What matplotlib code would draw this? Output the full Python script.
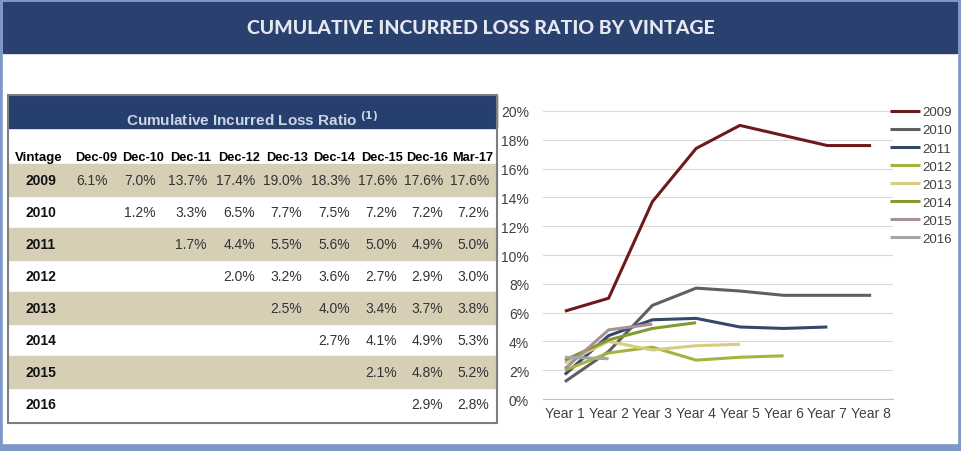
import matplotlib.pyplot as plt
from matplotlib.patches import Rectangle

W, H = 961, 452
fig = plt.figure(figsize=(W / 100, H / 100), dpi=100)
plt.rcParams['font.family'] = ['Liberation Sans', 'DejaVu Sans']

# data
vintages = ['2009', '2010', '2011', '2012', '2013', '2014', '2015', '2016']
periods = ['Dec-09', 'Dec-10', 'Dec-11', 'Dec-12', 'Dec-13', 'Dec-14', 'Dec-15', 'Dec-16', 'Mar-17']
ratios = [
    [6.1, 7.0, 13.7, 17.4, 19.0, 18.3, 17.6, 17.6, 17.6],
    [1.2, 3.3, 6.5, 7.7, 7.5, 7.2, 7.2, 7.2],
    [1.7, 4.4, 5.5, 5.6, 5.0, 4.9, 5.0],
    [2.0, 3.2, 3.6, 2.7, 2.9, 3.0],
    [2.5, 4.0, 3.4, 3.7, 3.8],
    [2.7, 4.1, 4.9, 5.3],
    [2.1, 4.8, 5.2],
    [2.9, 2.8],
]
years = ['Year 1', 'Year 2', 'Year 3', 'Year 4', 'Year 5', 'Year 6', 'Year 7', 'Year 8']
colors = ['#6e1a1a', '#5f5f5f', '#34496a', '#a4b43c', '#d6cc82', '#839b2c', '#a89096', '#a6a6a6']

# background / frame in pixel coords
bg = fig.add_axes([0, 0, 1, 1])
bg.set_xlim(0, W)
bg.set_ylim(H, 0)
bg.axis('off')
frame = '#7b98c8'
bg.add_patch(Rectangle((0, 0), W, H, color=frame))
bg.add_patch(Rectangle((3, 3), W - 7, H - 11, color='white'))
bg.add_patch(Rectangle((3, 3), W - 7, 51, color='#2a4170'))
bg.text(W / 2, 29, 'CUMULATIVE INCURRED LOSS RATIO BY VINTAGE', color='#e6e8f0',
        fontsize=14, fontweight='black', family='Lato', ha='center', va='center')

# table
tx0, tx1, ty0 = 8, 497, 96
bg.add_patch(Rectangle((tx0, ty0), tx1 - tx0, 33, color='#263f6c'))
bg.text(252, 120, 'Cumulative Incurred Loss Ratio $^{\\mathbf{(1)}}$', color='#cdd6e8',
        fontsize=11, fontweight='bold', ha='center', va='center')
col_c = [96, 143, 191, 239, 287, 334, 382, 427, 473]
col_r = [108, 156, 207, 255, 302, 350, 397, 443, 489]
bg.text(39, 158, 'Vintage', fontsize=9.5, fontweight='bold', ha='center', va='center')
for c, p in zip(col_c, periods):
    bg.text(c, 158, p, fontsize=9.2, fontweight='bold', ha='center', va='center')
row_h = 32
for i, (v, vals) in enumerate(zip(vintages, ratios)):
    top = 165 + i * row_h
    if i % 2 == 0:
        bg.add_patch(Rectangle((tx0, top), tx1 - tx0, row_h, color='#d6cfb6'))
    yc = top + row_h / 2
    bg.text(25, yc, v, fontsize=10, fontweight='bold', ha='left', va='center', color='#111111')
    start = len(periods) - len(vals)
    for j, val in enumerate(vals):
        bg.text(col_r[start + j], yc, f'{val:.1f}%', fontsize=10, ha='right',
                va='center', color='#333333')
bottom = 165 + len(vintages) * row_h + 3
bg.add_patch(Rectangle((tx0, ty0), tx1 - tx0, bottom - ty0, fill=False,
                       edgecolor='#7f7f7f', lw=1.5))

# chart
ax_l, ax_r, ax_t, ax_b = 543, 893, 112, 400
ax = fig.add_axes([ax_l / W, 1 - ax_b / H, (ax_r - ax_l) / W, (ax_b - ax_t) / H])
x = list(range(len(years)))
for v, vals, col in zip(vintages, ratios, colors):
    vv = vals[:len(years)]
    ax.plot(x[:len(vv)], [a / 100 for a in vv], color=col, lw=2.2, label=v,
            solid_capstyle='butt')
ax.set_xlim(-0.5, len(years) - 0.5)
ax.set_ylim(0, 0.20)
ax.set_yticks([i / 100 for i in range(0, 21, 2)])
ax.set_yticklabels([f'{i}%' for i in range(0, 21, 2)])
ax.set_xticks(x)
ax.set_xticklabels(years)
ax.tick_params(length=0, labelsize=10, colors='#404040', pad=5)
ax.tick_params(axis='y', pad=10)
ax.grid(axis='y', color='#d9d9d9', lw=0.8)
ax.set_axisbelow(True)
for s in ['top', 'right', 'left']:
    ax.spines[s].set_visible(False)
ax.spines['bottom'].set_color('#bfbfbf')
ax.patch.set_alpha(0)

leg = ax.legend(loc='upper left', bbox_to_anchor=(0.975, 1.035), frameon=False,
                fontsize=9.5, handlelength=2.3, handletextpad=0.15, labelspacing=0.44,
                borderaxespad=0)
for t in leg.get_texts():
    t.set_color('#404040')

fig.savefig('out.png', dpi=100)
